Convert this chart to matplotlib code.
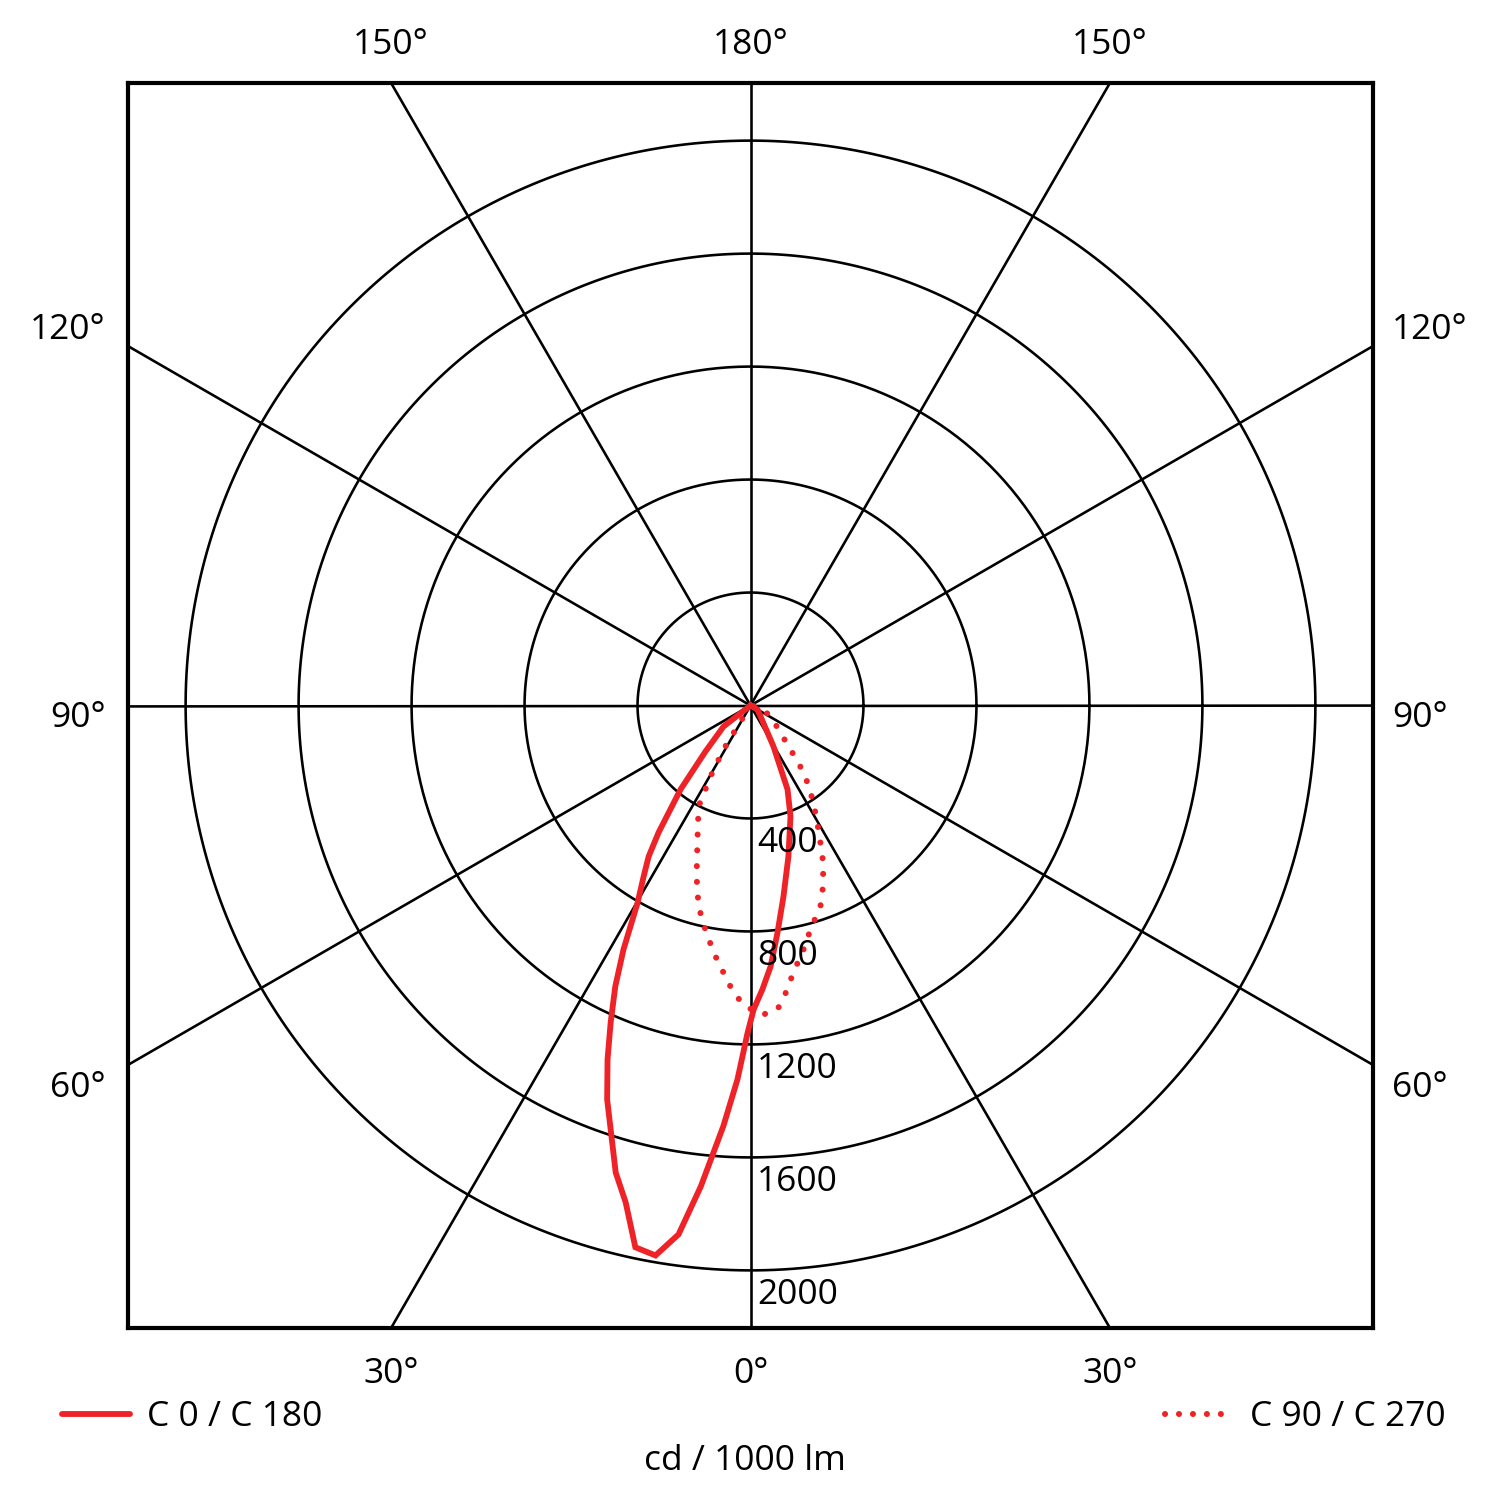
import numpy as np
import matplotlib
matplotlib.use('Agg')
import matplotlib.pyplot as plt
from matplotlib.lines import Line2D

plt.rcParams['font.family'] = ['Open Sans', 'DejaVu Sans']

# luminous intensity distribution, gamma in degrees (negative = C180 / C270 side)
c0_gamma = [0, -52.1, -44.4, -39.8, -35.9, -34.0, -32.0, -29.8, -27.5, -25.7, -23.8,
            -22.0, -20.0, -16.1, -14.1, -12.0, -9.8, -7.75, -5.9, -3.7, -2.0, -0.5,
            0.6, 2.4, 4.4, 6.8, 9.8, 14.1, 19.8, 23.8, 29.3, 60.0, 0]
c0_cd = [0, 121, 228, 387, 555, 645, 714, 804, 974, 1104, 1227,
         1351, 1484, 1721, 1814, 1961, 1976, 1890, 1712, 1493, 1325, 1158,
         1076, 1006, 927, 809, 686, 551, 418, 325, 166, 29, 0]

c90_gamma = [0, -31.8, -31.5, -29.4, -27.2, -21.6, -17.5, -14.5, -11.4, -8.5, -5.8,
             -3.4, -1.0, 2.4, 5.1, 7.4, 9.1, 11.9, 15.0, 19.2, 22.4, 25.5, 28.7,
             33.0, 36.5, 40.1, 42.8, 48.0, 61.2, 78.7, 0]
c90_cd = [0, 87, 183, 288, 402, 510, 635, 735, 809, 884, 950,
          1018, 1066, 1095, 1080, 1014, 957, 893, 821, 753, 678, 592, 501,
          409, 339, 264, 198, 143, 81, 36, 0]

ring_values = [400, 800, 1200, 1600, 2000]
spoke_angles = [0, 30, 60, 90, 120, 150]
legend_labels = ['C 0 / C 180', 'C 90 / C 270']
unit_label = 'cd / 1000 lm'

red = '#ee2227'
lim = 2204

fig = plt.figure(figsize=(10, 10), dpi=150)
ax = fig.add_axes([128 / 1500, 1 - 1328 / 1500, 1245 / 1500, 1245 / 1500])
ax.set_xlim(-lim, lim)
ax.set_ylim(-lim, lim)
ax.set_aspect('equal')
ax.set_xticks([])
ax.set_yticks([])
for s in ax.spines.values():
    s.set_linewidth(2.0)

# grid circles and spokes
t = np.linspace(0, 2 * np.pi, 400)
for r in ring_values:
    ax.plot(r * np.cos(t), r * np.sin(t), color='black', lw=1.25, zorder=1)
for a in spoke_angles:
    a_r = np.radians(a)
    L = 5000
    ax.plot([-L * np.sin(a_r), L * np.sin(a_r)], [-L * np.cos(a_r), L * np.cos(a_r)],
            color='black', lw=1.25, zorder=1)

# curves
g = np.radians(c0_gamma)
ax.plot(np.array(c0_cd) * np.sin(g), -np.array(c0_cd) * np.cos(g),
        color=red, lw=2.8, zorder=3, solid_joinstyle='miter')
g = np.radians(c90_gamma)
ax.plot(np.array(c90_cd) * np.sin(g), -np.array(c90_cd) * np.cos(g),
        color=red, lw=2.9, ls=(0, (0.01, 2.6)), dash_capstyle='round', zorder=3)

# radial value labels
fs = 17
for r in ring_values:
    ax.annotate(str(r), (0, -r), xytext=(3.2, -16.2), textcoords='offset points',
                ha='left', va='baseline', fontsize=fs)

# angle labels
tx = lim * np.tan(np.radians(30))
kw = dict(textcoords='offset points', fontsize=fs, va='baseline', annotation_clip=False)
ax.annotate('150°', (-tx, lim), xytext=(0, 14), ha='center', **kw)
ax.annotate('180°', (0, lim), xytext=(0, 14), ha='center', **kw)
ax.annotate('150°', (tx, lim), xytext=(0, 14), ha='center', **kw)
ax.annotate('30°', (-tx, -lim), xytext=(0, -26.5), ha='center', **kw)
ax.annotate('0°', (0, -lim), xytext=(0, -26.5), ha='center', **kw)
ax.annotate('30°', (tx, -lim), xytext=(0, -26.5), ha='center', **kw)
for lab, y, dy in [('120°', tx, 3.6), ('90°', 0, -10.2), ('60°', -tx, -15.6)]:
    ax.annotate(lab, (-lim, y), xytext=(-10.6, dy), ha='right', **kw)
    ax.annotate(lab, (lim, y), xytext=(9, dy), ha='left', **kw)

# legend and unit
fig.add_artist(Line2D([62 / 1500, 130 / 1500], [1 - 1414 / 1500] * 2, color=red, lw=2.8,
                      solid_capstyle='round', transform=fig.transFigure))
fig.text(147 / 1500, 1 - 1426 / 1500, legend_labels[0], fontsize=fs, va='baseline', ha='left')
fig.add_artist(Line2D([1165 / 1500, 1230 / 1500], [1 - 1414 / 1500] * 2, color=red, lw=2.9,
                      ls=(0, (0.01, 2.3)), dash_capstyle='round', transform=fig.transFigure))
fig.text(1250 / 1500, 1 - 1426 / 1500, legend_labels[1], fontsize=fs, va='baseline', ha='left')
fig.text(745 / 1500, 1 - 1470 / 1500, unit_label, fontsize=fs, va='baseline', ha='center')

fig.savefig('out.png', dpi=150)
